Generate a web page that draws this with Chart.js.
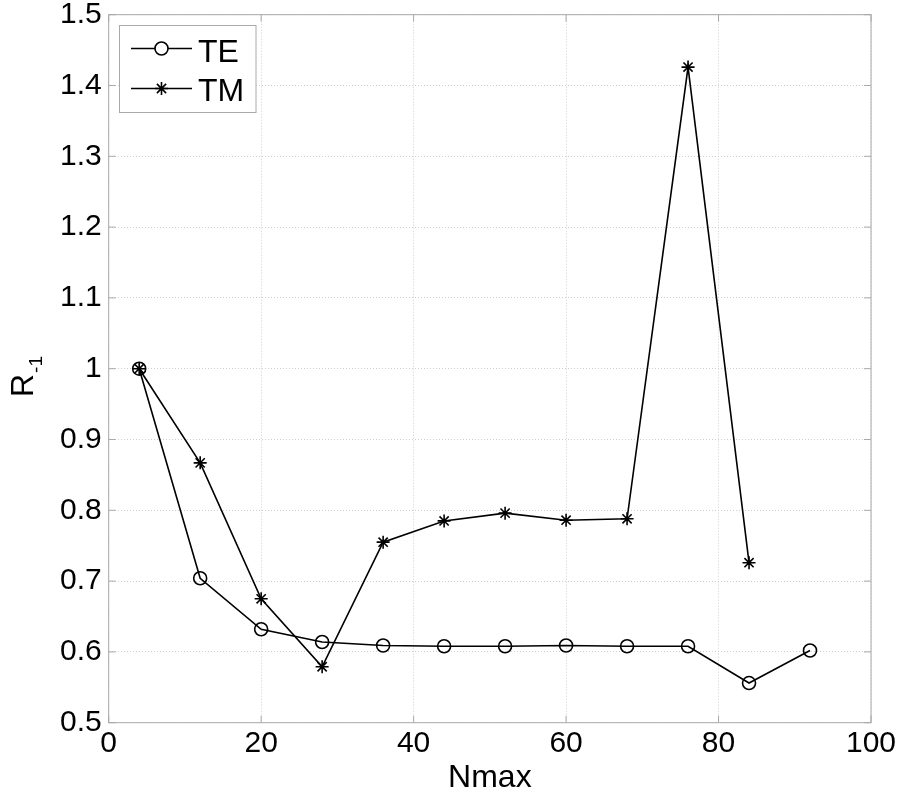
<!DOCTYPE html>
<html>
<head>
<meta charset="utf-8">
<script src="https://cdn.jsdelivr.net/npm/chart.js@4.4.1/dist/chart.umd.min.js"></script>
<style>
  html, body { margin: 0; padding: 0; background: #fff; }
  #wrap { width: 900px; height: 800px; }
</style>
</head>
<body>
<div id="wrap"><canvas id="chart" width="900" height="800"></canvas></div>
<script>
// values
const nmaxTE = [4, 12, 20, 28, 36, 44, 52, 60, 68, 76, 84, 92];
const teValues = [1.0, 0.704, 0.632, 0.614, 0.609, 0.608, 0.608, 0.609, 0.608, 0.608, 0.556, 0.602];

const nmaxTM = [4, 12, 20, 28, 36, 44, 52, 60, 68, 76, 84];
const tmValues = [1.0, 0.867, 0.675, 0.579, 0.755, 0.785, 0.796, 0.786, 0.788, 1.426, 0.726];

const legendLabels = ['TE', 'TM'];
const xTitle = 'Nmax';
const yTitle = 'R';
const yTitleSub = '-1';

const FONT = '"Liberation Sans", Arial, Helvetica, sans-serif';
const frameColor = '#a9a9a9';

function toPoints(xs, ys) {
    return xs.map((x, i) => ({ x: x, y: ys[i] }));
}

function drawStar(ctx, x, y, r) {
    ctx.beginPath();
    for (let k = 0; k < 4; k++) {
        const a = k * Math.PI / 4;
        ctx.moveTo(x - r * Math.cos(a), y - r * Math.sin(a));
        ctx.lineTo(x + r * Math.cos(a), y + r * Math.sin(a));
    }
    ctx.stroke();
}

// no extra room for overflowing tick labels, the plot box is fixed
function fixScale(s, size) {
    if (s.isHorizontal()) s.height = size; else s.width = size;
    s.paddingTop = 0;
    s.paddingBottom = 0;
    s.paddingLeft = 0;
    s.paddingRight = 0;
}

// frame, inward ticks, axis titles and the legend box
const decorPlugin = {
    id: 'decor',
    afterDraw(chart) {
        const ctx = chart.ctx;
        const area = chart.chartArea;
        const xs = chart.scales.x;
        const ys = chart.scales.y;
        ctx.save();

        ctx.strokeStyle = frameColor;
        ctx.lineWidth = 1;
        ctx.setLineDash([]);
        ctx.strokeRect(area.left, area.top, area.right - area.left, area.bottom - area.top);

        const tl = 7;
        ctx.beginPath();
        xs.ticks.forEach(t => {
            const px = xs.getPixelForValue(t.value);
            ctx.moveTo(px, area.bottom); ctx.lineTo(px, area.bottom - tl);
            ctx.moveTo(px, area.top); ctx.lineTo(px, area.top + tl);
        });
        ys.ticks.forEach(t => {
            const py = ys.getPixelForValue(t.value);
            ctx.moveTo(area.left, py); ctx.lineTo(area.left + tl, py);
            ctx.moveTo(area.right, py); ctx.lineTo(area.right - tl, py);
        });
        ctx.stroke();

        // axis titles
        ctx.fillStyle = '#000';
        ctx.font = '32px ' + FONT;
        ctx.textAlign = 'center';
        ctx.textBaseline = 'alphabetic';
        ctx.fillText(xTitle, (area.left + area.right) / 2, 787);

        ctx.save();
        ctx.translate(33, 397);
        ctx.rotate(-Math.PI / 2);
        ctx.textAlign = 'left';
        ctx.font = '32px ' + FONT;
        ctx.fillText(yTitle, 0, 0);
        const rw = ctx.measureText(yTitle).width;
        ctx.font = '19px ' + FONT;
        ctx.fillText(yTitleSub, rw + 1, 9);
        ctx.restore();

        // legend
        const lx = 119.5, ly = 25.5, lw = 136.5, lh = 87;
        ctx.fillStyle = '#fff';
        ctx.fillRect(lx, ly, lw, lh);
        ctx.strokeStyle = frameColor;
        ctx.lineWidth = 1;
        ctx.strokeRect(lx, ly, lw, lh);

        const rows = [48.5, 88.5];
        const baselines = [61.5, 100.5];
        ctx.strokeStyle = '#000';
        ctx.lineWidth = 1.6;
        rows.forEach((ry) => {
            ctx.beginPath();
            ctx.moveTo(131, ry);
            ctx.lineTo(192, ry);
            ctx.stroke();
        });
        ctx.fillStyle = '#fff';
        ctx.beginPath();
        ctx.arc(161.5, rows[0], 6.5, 0, Math.PI * 2);
        ctx.fill();
        ctx.stroke();
        drawStar(ctx, 161.5, rows[1], 6.5);

        ctx.fillStyle = '#000';
        ctx.font = '32px ' + FONT;
        ctx.textAlign = 'left';
        legendLabels.forEach((lab, i) => ctx.fillText(lab, 198, baselines[i]));

        ctx.restore();
    }
};

const gridOpts = {
    color: '#cfcfcf',
    lineWidth: 1,
    drawTicks: false,
};

new Chart(document.getElementById('chart'), {
    type: 'line',
    data: {
        datasets: [
            {
                label: legendLabels[0],
                data: toPoints(nmaxTE, teValues),
                borderColor: '#000',
                borderWidth: 1.6,
                pointStyle: 'circle',
                pointRadius: 6.5,
                pointBorderWidth: 1.6,
                pointBorderColor: '#000',
                pointBackgroundColor: 'rgba(0,0,0,0)',
                tension: 0,
                fill: false,
            },
            {
                label: legendLabels[1],
                data: toPoints(nmaxTM, tmValues),
                borderColor: '#000',
                borderWidth: 1.6,
                pointStyle: 'star',
                pointRadius: 6.5,
                pointBorderWidth: 1.6,
                pointBorderColor: '#000',
                pointBackgroundColor: '#000',
                tension: 0,
                fill: false,
            },
        ]
    },
    options: {
        responsive: false,
        animation: false,
        devicePixelRatio: 1,
        layout: { padding: { left: 0, top: 14.7, right: 29, bottom: 0 } },
        plugins: {
            legend: { display: false },
            tooltip: { enabled: false },
        },
        scales: {
            x: {
                type: 'linear',
                min: 0, max: 100,
                ticks: {
                    stepSize: 20,
                    padding: 6,
                    color: '#000',
                    font: { family: FONT, size: 30, lineHeight: 1 },
                    maxRotation: 0,
                    callback: (v) => String(v),
                },
                grid: gridOpts,
                border: { display: false, dash: [1, 2] },
                afterFit: (s) => fixScale(s, 800 - 722.7),
            },
            y: {
                type: 'linear',
                min: 0.5, max: 1.5,
                ticks: {
                    stepSize: 0.1,
                    padding: 7,
                    color: '#000',
                    font: { family: FONT, size: 30, lineHeight: 1 },
                    callback: (v) => String(Number(v.toFixed(1))),
                },
                grid: gridOpts,
                border: { display: false, dash: [1, 2] },
                afterFit: (s) => fixScale(s, 108.7),
            }
        }
    },
    plugins: [decorPlugin]
});
</script>
</body>
</html>
